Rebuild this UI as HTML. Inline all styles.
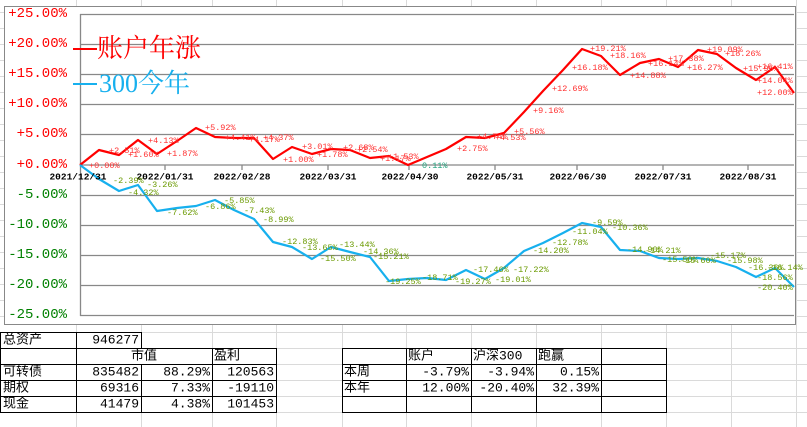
<!DOCTYPE html>
<html><head><meta charset="utf-8"><style>
html,body{margin:0;padding:0;background:#fff;}
svg{display:block;}
.m{font-family:"Liberation Mono","Noto Sans CJK SC",monospace;}
.r{fill:#ff3030;font-size:8.5px;}
.g{fill:#6a9a00;font-size:8.5px;}
.yl{font-size:14px;text-anchor:end;dominant-baseline:central;}
.xl{font-size:9.5px;font-weight:bold;fill:#000;text-anchor:middle;dominant-baseline:central;}
.t{font-family:"Liberation Mono","Noto Sans CJK SC",monospace;font-size:13px;fill:#000;dominant-baseline:central;}
</style></head><body>
<svg width="807" height="427" viewBox="0 0 807 427" xmlns="http://www.w3.org/2000/svg">
<g stroke="#dadada" stroke-width="1">
<path d="M0 12.5H807M0 28.5H807M0 44.5H807M0 60.5H807M0 76.5H807M0 92.5H807M0 108.5H807M0 124.5H807M0 140.5H807M0 156.5H807M0 172.5H807M0 188.5H807M0 204.5H807M0 220.5H807M0 236.5H807M0 252.5H807M0 268.5H807M0 284.5H807M0 300.5H807M0 316.5H807M0 332.5H807M0 348.5H807M0 364.5H807M0 380.5H807M0 396.5H807M0 412.5H807"/>
<path d="M76.5 0V427M141.5 0V427M212.5 0V427M276.5 0V427M342.5 0V427M406.5 0V427M471.5 0V427M536.5 0V427M601.5 0V427M666.5 0V427M731.5 0V427M796.5 0V427"/>
</g>
<rect x="4.5" y="6.5" width="791" height="318" fill="#fff" stroke="#888"/>
<g stroke="#888" stroke-width="1.3">
<path d="M80 14.5H794M80 44.5H794M80 74.5H794M80 104.5H794M80 134.5H794M80 165H794M80 195.5H794M80 225.5H794M80 255.5H794M80 285.5H794M80 315.5H794"/>
<path d="M80.5 14V316"/>
<path d="M165 165V170M242 165V170M328 165V170M409 165V170M495 165V170M577 165V170M663 165V170M748 165V170"/>
</g>
<g class="m yl">
<text x="67" y="14" fill="#ff0000">+25.00%</text>
<text x="67" y="44" fill="#ff0000">+20.00%</text>
<text x="67" y="74" fill="#ff0000">+15.00%</text>
<text x="67" y="104" fill="#ff0000">+10.00%</text>
<text x="67" y="134" fill="#ff0000">+5.00%</text>
<text x="67" y="165" fill="#ff0000">+0.00%</text>
<text x="67" y="195" fill="#008000">-5.00%</text>
<text x="67" y="225" fill="#008000">-10.00%</text>
<text x="67" y="255" fill="#008000">-15.00%</text>
<text x="67" y="285" fill="#008000">-20.00%</text>
<text x="67" y="315" fill="#008000">-25.00%</text>
</g>
<polyline fill="none" stroke="#ff0000" stroke-width="2.2" stroke-linejoin="round" points="80,165 99,150 119,155 138,140 157,154 177,141 196,128 215,137 234,138 254,138 273,159 292,147 312,154 331,149 350,150 370,158 389,156 408,165 427,157 446,149 466,137 485,138 504,133 524,112 543,91 563,70 582,49 601,56 620,75 640,63 659,59 678,67 698,50 717,54 736,68 756,80 775,67 794,93"/>
<polyline fill="none" stroke="#17b0ee" stroke-width="2.2" stroke-linejoin="round" points="80,165 99,179 119,191 138,185 157,211 177,208 196,206 215,200 234,210 254,219 273,242 292,247 312,259 331,247 350,252 370,257 389,281 408,279 427,278 446,280 466,270 485,279 504,268 524,251 543,243 563,233 582,223 601,227 620,250 640,251 659,258 678,259 698,258 717,261 736,267 756,277 775,268 794,287"/>
<g class="m xl">
<text x="78" y="177">2021/12/31</text>
<text x="165" y="177">2022/01/31</text>
<text x="242" y="177">2022/02/28</text>
<text x="328" y="177">2022/03/31</text>
<text x="410" y="177">2022/04/30</text>
<text x="495" y="177">2022/05/31</text>
<text x="578" y="177">2022/06/30</text>
<text x="663" y="177">2022/07/31</text>
<text x="748" y="177">2022/08/31</text>
</g>
<g class="m r" dominant-baseline="central">
<text x="89" y="166">+0.00%</text>
<text x="109" y="151">+2.51%</text>
<text x="128" y="155">+1.60%</text>
<text x="148" y="141">+4.13%</text>
<text x="167" y="154">+1.87%</text>
<text x="205" y="128">+5.92%</text>
<text x="225" y="138">+4.41%</text>
<text x="249" y="140">+4.17%</text>
<text x="263" y="138">+4.37%</text>
<text x="283" y="160">+1.00%</text>
<text x="302" y="147">+3.01%</text>
<text x="317" y="155">+1.78%</text>
<text x="343" y="148">+2.68%</text>
<text x="357" y="150">+2.54%</text>
<text x="380" y="159">+1.17%</text>
<text x="388" y="157">+1.53%</text>
<text x="457" y="149">+2.75%</text>
<text x="477" y="137">+4.74%</text>
<text x="495" y="138">+4.53%</text>
<text x="514" y="132">+5.56%</text>
<text x="533" y="111">+9.16%</text>
<text x="552" y="89">+12.69%</text>
<text x="572" y="68">+16.18%</text>
<text x="590" y="49">+19.21%</text>
<text x="610" y="56">+18.16%</text>
<text x="630" y="76">+14.88%</text>
<text x="648" y="64">+16.14%</text>
<text x="668" y="59">+17.38%</text>
<text x="687" y="68">+16.27%</text>
<text x="707" y="50">+19.09%</text>
<text x="725" y="54">+18.26%</text>
<text x="743" y="69">+15.95%</text>
<text x="757" y="67">+16.41%</text>
<text x="757" y="81">+14.04%</text>
<text x="757" y="93">+12.00%</text>
</g>
<g class="m g" dominant-baseline="central">
<text x="422" y="166" fill="#1aa07a">0.11%</text>
<text x="113" y="181">-2.39%</text>
<text x="147" y="185">-3.26%</text>
<text x="128" y="193">-4.32%</text>
<text x="167" y="213">-7.62%</text>
<text x="205" y="207">-6.86%</text>
<text x="224" y="201">-5.85%</text>
<text x="244" y="211">-7.43%</text>
<text x="263" y="220">-8.99%</text>
<text x="282" y="242">-12.83%</text>
<text x="302" y="248">-13.65%</text>
<text x="320" y="259">-15.50%</text>
<text x="339" y="245">-13.44%</text>
<text x="363" y="252">-14.36%</text>
<text x="373" y="257">-15.21%</text>
<text x="385" y="282">-19.25%</text>
<text x="422" y="278">-18.71%</text>
<text x="455" y="282">-19.27%</text>
<text x="473" y="270">-17.46%</text>
<text x="495" y="280">-19.01%</text>
<text x="513" y="270">-17.22%</text>
<text x="533" y="251">-14.20%</text>
<text x="552" y="243">-12.78%</text>
<text x="572" y="232">-11.04%</text>
<text x="592" y="223">-9.59%</text>
<text x="612" y="228">-10.36%</text>
<text x="627" y="250">-14.90%</text>
<text x="645" y="251">-14.21%</text>
<text x="662" y="260">-15.50%</text>
<text x="680" y="261">-15.60%</text>
<text x="710" y="256">-15.17%</text>
<text x="727" y="261">-15.98%</text>
<text x="748" y="268">-16.36%</text>
<text x="767" y="268">-16.14%</text>
<text x="757" y="278">-18.56%</text>
<text x="757" y="288">-20.40%</text>
</g>
<line x1="73" y1="49" x2="97" y2="49" stroke="#ff0000" stroke-width="2"/>
<text x="97" y="57" font-family="'Liberation Serif','Noto Serif CJK SC',serif" font-size="26" fill="#ff0000">账户年涨</text>
<line x1="73" y1="84" x2="97" y2="84" stroke="#17b0ee" stroke-width="2"/>
<text x="99" y="92" font-family="'Liberation Serif','Noto Serif CJK SC',serif" font-size="26" fill="#17b0ee">300今年</text>
<g fill="#fff" stroke="none">
<rect x="0" y="333" width="141" height="15"/>
<rect x="0" y="349" width="276" height="63"/>
<rect x="342" y="349" width="324" height="63"/>
</g>
<g stroke="#000" stroke-width="1" fill="none">
<path d="M0 332.5H141.5M0 348.5H276.5M0 364.5H276.5M0 380.5H276.5M0 396.5H276.5M0 412.5H276.5"/>
<path d="M0.5 332V413M76.5 332V413M141.5 332V348M141.5 364V413M212.5 348V413M276.5 348V413"/>
<path d="M342 348.5H666.5M342 364.5H666.5M342 380.5H666.5M342 396.5H666.5M342 412.5H666.5"/>
<path d="M342.5 348V413M406.5 348V413M471.5 348V413M536.5 348V413M601.5 348V413M666.5 348V413"/>
</g>
<g class="t">
<text x="3" y="340">总资产</text>
<text x="139" y="340" text-anchor="end">946277</text>
<text x="144" y="356" text-anchor="middle">市值</text>
<text x="214" y="356">盈利</text>
<text x="3" y="372">可转债</text><text x="139" y="372" text-anchor="end">835482</text><text x="210" y="372" text-anchor="end">88.29%</text><text x="274" y="372" text-anchor="end">120563</text>
<text x="3" y="388">期权</text><text x="139" y="388" text-anchor="end">69316</text><text x="210" y="388" text-anchor="end">7.33%</text><text x="274" y="388" text-anchor="end">-19110</text>
<text x="3" y="404">现金</text><text x="139" y="404" text-anchor="end">41479</text><text x="210" y="404" text-anchor="end">4.38%</text><text x="274" y="404" text-anchor="end">101453</text>
<text x="408" y="356">账户</text><text x="473" y="356">沪深300</text><text x="538" y="356">跑赢</text>
<text x="344" y="372">本周</text><text x="469" y="372" text-anchor="end">-3.79%</text><text x="534" y="372" text-anchor="end">-3.94%</text><text x="599" y="372" text-anchor="end">0.15%</text>
<text x="344" y="388">本年</text><text x="469" y="388" text-anchor="end">12.00%</text><text x="534" y="388" text-anchor="end">-20.40%</text><text x="599" y="388" text-anchor="end">32.39%</text>
</g>
</svg>
</body></html>
